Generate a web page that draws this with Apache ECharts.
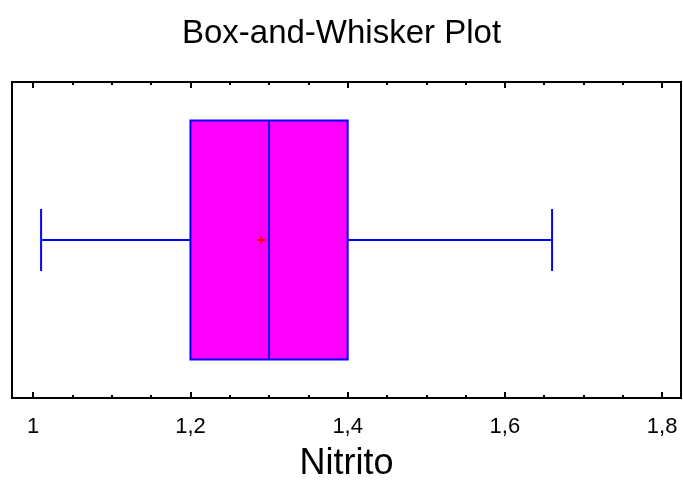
<!DOCTYPE html>
<html><head><meta charset="utf-8">
<script src="https://cdn.jsdelivr.net/npm/echarts@6/dist/echarts.min.js"></script>
<style>html,body{margin:0;padding:0;background:#fff}#c{width:683px;height:482px}</style>
</head><body><div id="c"></div>
<script>
// Data
const variableName = 'Nitrito';
const whiskerLow = 1.01;
const q1 = 1.2;
const median = 1.3;
const q3 = 1.4;
const whiskerHigh = 1.66;
const meanValue = 1.29;
const majorTicks = [1, 1.2, 1.4, 1.6, 1.8];
const minorTicks = [1.05, 1.1, 1.15, 1.25, 1.3, 1.35, 1.45, 1.5, 1.55, 1.65, 1.7, 1.75];
const axisMin = 0.973, axisMax = 1.824;

const chart = echarts.init(document.getElementById('c'), null, {renderer: 'canvas'});
const FONT = 'Liberation Sans, Arial, sans-serif';
const BOX_HALF = 0.378, CAP_HALF = 0.098, CENTER = 0.5;

function mkX(pos, values, len, labels, line) {
  return {
    type: 'value', position: pos, min: axisMin, max: axisMax,
    axisLine: {show: line, lineStyle: {color: '#000', width: 2}},
    axisTick: {show: true, inside: true, length: len, customValues: values, lineStyle: {color: '#000', width: 2}},
    axisLabel: labels ? {show: true, customValues: values, color: '#000', fontSize: 22, fontFamily: FONT, margin: 18,
      formatter: v => String(Math.round(v * 10) / 10).replace('.', ',')} : {show: false},
    splitLine: {show: false}, minorTick: {show: false},
    name: labels ? variableName : '', nameLocation: 'middle', nameGap: 48,
    nameTextStyle: {color: '#000', fontSize: 36, fontFamily: FONT}
  };
}

chart.setOption({
  animation: false,
  backgroundColor: '#fff',
  title: {text: 'Box-and-Whisker Plot', left: 'center', top: 12,
    textStyle: {color: '#000', fontSize: 33, fontWeight: 'normal', fontFamily: FONT}},
  grid: {left: 12, right: 2, top: 82, bottom: 84, show: true, borderColor: '#000', borderWidth: 2, backgroundColor: '#fff',
    containLabel: false, outerBoundsMode: 'none'},
  xAxis: [
    mkX('bottom', majorTicks, 6, true, true),
    mkX('bottom', minorTicks, 3, false, false),
    mkX('top', majorTicks, 6, false, true),
    mkX('top', minorTicks, 3, false, false)
  ],
  yAxis: {type: 'value', min: 0, max: 1, show: false},
  series: [{
    type: 'custom',
    xAxisIndex: 0,
    data: [[whiskerLow, q1, median, q3, whiskerHigh, meanValue]],
    renderItem: function (params, api) {
      const lo = api.value(0), a = api.value(1), m = api.value(2), b = api.value(3), hi = api.value(4), mn = api.value(5);
      const p = (x, y) => api.coord([x, y]);
      const blue = {stroke: '#0000FF', lineWidth: 2, fill: null};
      const t = p(a, CENTER + BOX_HALF), bt = p(b, CENTER - BOX_HALF);
      const meanPt = p(mn, CENTER);
      return {type: 'group', children: [
        {type: 'line', shape: {x1: p(lo, CENTER)[0], y1: p(lo, CENTER)[1], x2: p(a, CENTER)[0], y2: p(a, CENTER)[1]}, style: blue},
        {type: 'line', shape: {x1: p(b, CENTER)[0], y1: p(b, CENTER)[1], x2: p(hi, CENTER)[0], y2: p(hi, CENTER)[1]}, style: blue},
        {type: 'line', shape: {x1: p(lo, CENTER + CAP_HALF)[0], y1: p(lo, CENTER + CAP_HALF)[1], x2: p(lo, CENTER - CAP_HALF)[0], y2: p(lo, CENTER - CAP_HALF)[1]}, style: blue},
        {type: 'line', shape: {x1: p(hi, CENTER + CAP_HALF)[0], y1: p(hi, CENTER + CAP_HALF)[1], x2: p(hi, CENTER - CAP_HALF)[0], y2: p(hi, CENTER - CAP_HALF)[1]}, style: blue},
        {type: 'rect', shape: {x: t[0], y: t[1], width: bt[0] - t[0], height: bt[1] - t[1]}, style: {fill: '#FF00FF', stroke: '#0000FF', lineWidth: 2}},
        {type: 'line', shape: {x1: p(m, CENTER + BOX_HALF)[0], y1: p(m, CENTER + BOX_HALF)[1], x2: p(m, CENTER - BOX_HALF)[0], y2: p(m, CENTER - BOX_HALF)[1]}, style: blue},
        {type: 'line', shape: {x1: meanPt[0] - 4, y1: meanPt[1], x2: meanPt[0] + 4, y2: meanPt[1]}, style: {stroke: '#FF0000', lineWidth: 2}},
        {type: 'line', shape: {x1: meanPt[0], y1: meanPt[1] - 4, x2: meanPt[0], y2: meanPt[1] + 4}, style: {stroke: '#FF0000', lineWidth: 2}}
      ]};
    }
  }]
});
</script></body></html>
